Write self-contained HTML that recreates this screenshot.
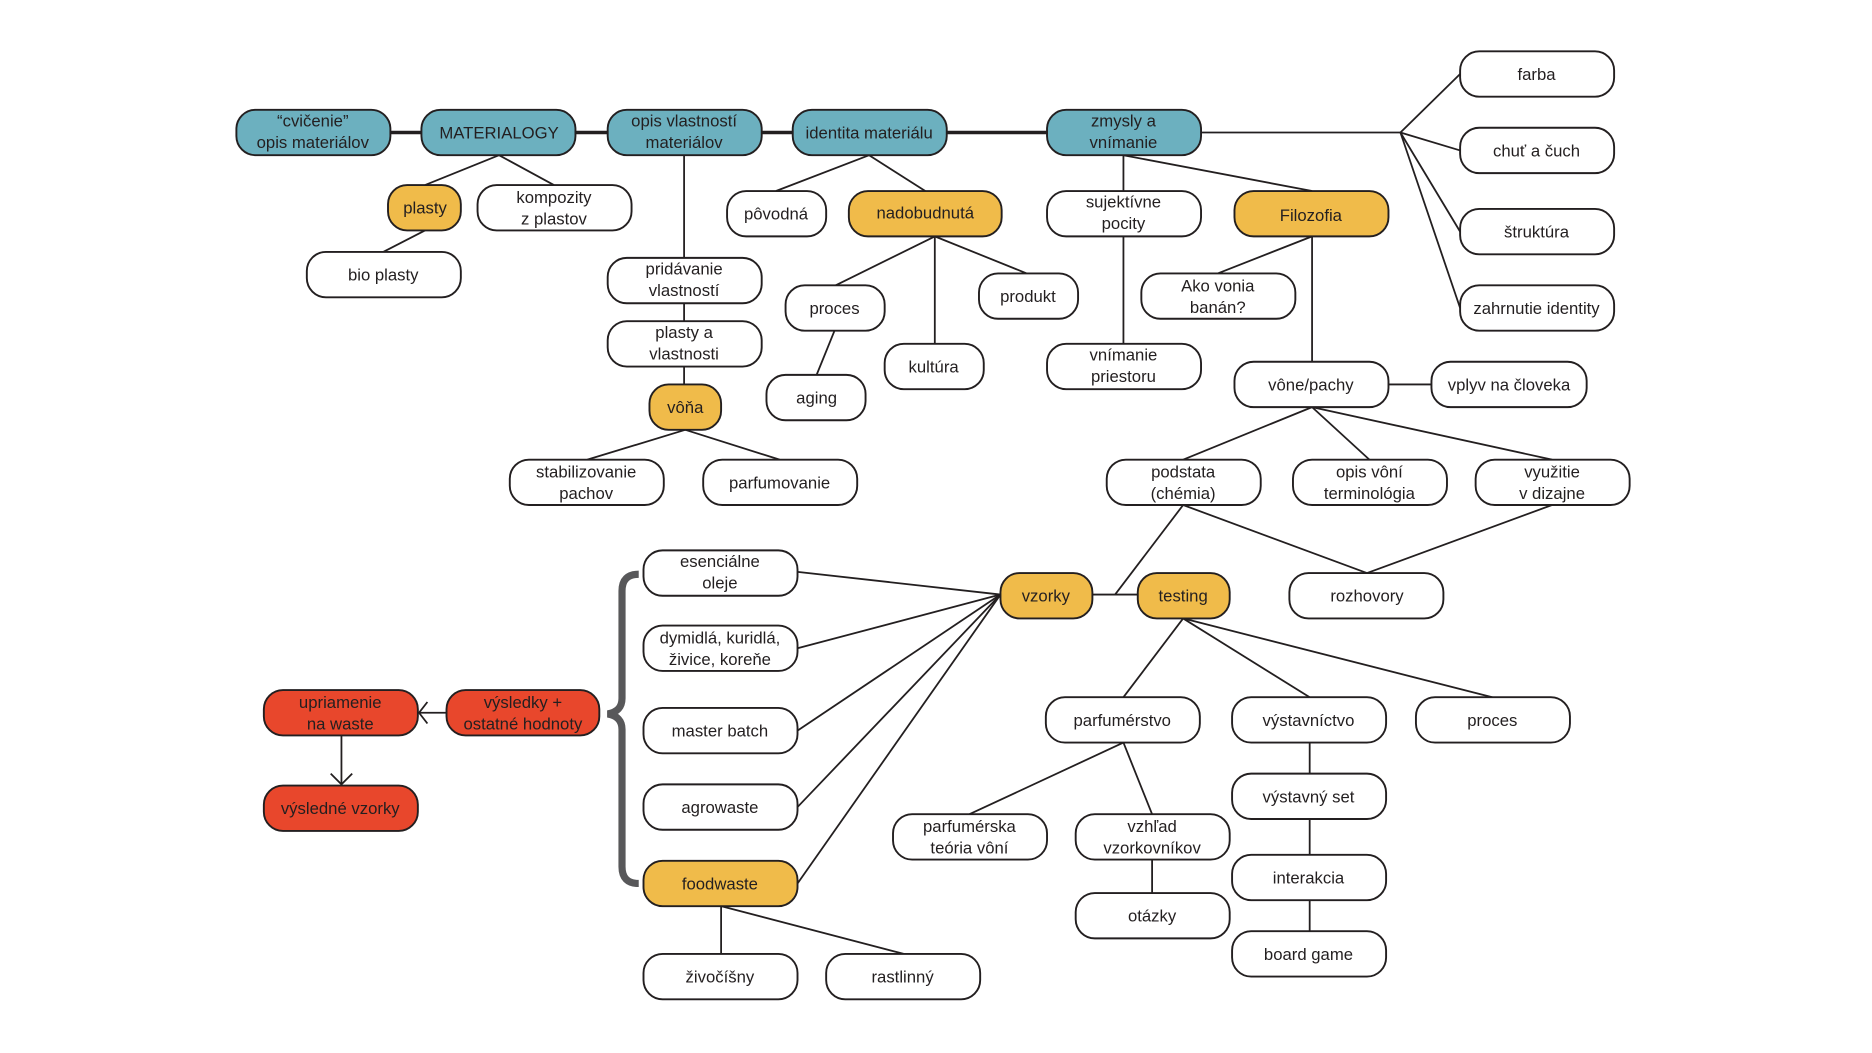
<!DOCTYPE html>
<html><head><meta charset="utf-8"><style>
html,body{margin:0;padding:0;background:#fff;width:1872px;height:1053px;overflow:hidden}
svg{display:block}
text{font-family:"Liberation Sans",sans-serif;font-size:14px;fill:#231f20;text-anchor:middle}
.b{stroke:#231f20;stroke-width:1.6}
.l{stroke:#231f20;stroke-width:1.5;fill:none}
</style></head><body>
<svg width="1872" height="1053" viewBox="0 0 1568 882" xmlns="http://www.w3.org/2000/svg">
<!-- connectors -->
<g class="l">
<line x1="327" y1="111" x2="877" y2="111" stroke-width="3"/>
<line x1="1006" y1="111" x2="1173" y2="111"/>
<line x1="1173" y1="111" x2="1223" y2="62"/>
<line x1="1173" y1="111" x2="1223" y2="126"/>
<line x1="1173" y1="111" x2="1223" y2="194"/>
<line x1="1173" y1="111" x2="1223" y2="258"/>
<line x1="418" y1="130" x2="356" y2="155"/>
<line x1="418" y1="130" x2="464" y2="155"/>
<line x1="356" y1="193" x2="321" y2="211"/>
<line x1="573" y1="130" x2="573" y2="322"/>
<line x1="574" y1="360" x2="492" y2="385"/>
<line x1="574" y1="360" x2="653" y2="385"/>
<line x1="728" y1="130" x2="650" y2="160"/>
<line x1="728" y1="130" x2="775" y2="160"/>
<line x1="783" y1="198" x2="700" y2="239"/>
<line x1="783" y1="198" x2="783" y2="288"/>
<line x1="783" y1="198" x2="860" y2="229"/>
<line x1="699" y1="277" x2="684" y2="314"/>
<line x1="941" y1="130" x2="941" y2="288"/>
<line x1="941" y1="130" x2="1099" y2="160"/>
<line x1="1099" y1="198" x2="1020" y2="229"/>
<line x1="1099" y1="198" x2="1099" y2="303"/>
<line x1="1163" y1="322" x2="1199" y2="322"/>
<line x1="1099" y1="341" x2="991" y2="385"/>
<line x1="1099" y1="341" x2="1147" y2="385"/>
<line x1="1099" y1="341" x2="1300" y2="385"/>
<line x1="991" y1="423" x2="1145" y2="480"/>
<line x1="1300" y1="423" x2="1145" y2="480"/>
<line x1="991" y1="423" x2="934" y2="498"/>
<line x1="915" y1="498" x2="953" y2="498"/>
<line x1="991" y1="518" x2="941" y2="584"/>
<line x1="991" y1="518" x2="1097" y2="584"/>
<line x1="991" y1="518" x2="1250" y2="584"/>
<line x1="941" y1="622" x2="812" y2="682"/>
<line x1="941" y1="622" x2="965" y2="682"/>
<line x1="965" y1="720" x2="965" y2="748"/>
<line x1="1097" y1="622" x2="1097" y2="780"/>
<line x1="838" y1="498" x2="668" y2="479"/>
<line x1="838" y1="498" x2="668" y2="543"/>
<line x1="838" y1="498" x2="668" y2="612"/>
<line x1="838" y1="498" x2="668" y2="676"/>
<line x1="838" y1="498" x2="668" y2="740"/>
<line x1="604" y1="759" x2="604" y2="799"/>
<line x1="604" y1="759" x2="757" y2="799"/>
<line x1="374" y1="597" x2="351" y2="597"/>
<polyline points="358,588 351,597 358,606"/>
<line x1="286" y1="616" x2="286" y2="657"/>
<polyline points="277,648 286,657 295,648"/>
</g>
<!-- brace -->
<path d="M535,481 Q521,481 521,495 L521,585 Q521,596 509,598 Q521,600 521,611 L521,726 Q521,740 535,740" fill="none" stroke="#58585a" stroke-width="6"/>
<!-- boxes -->
<g class="b">
<rect x="198" y="92" width="129" height="38" rx="16" fill="#6cb0bf"/>
<rect x="353" y="92" width="129" height="38" rx="16" fill="#6cb0bf"/>
<rect x="509" y="92" width="129" height="38" rx="16" fill="#6cb0bf"/>
<rect x="664" y="92" width="129" height="38" rx="16" fill="#6cb0bf"/>
<rect x="877" y="92" width="129" height="38" rx="16" fill="#6cb0bf"/>
<rect x="1223" y="43" width="129" height="38" rx="16" fill="#fff"/>
<rect x="1223" y="107" width="129" height="38" rx="16" fill="#fff"/>
<rect x="1223" y="175" width="129" height="38" rx="16" fill="#fff"/>
<rect x="1223" y="239" width="129" height="38" rx="16" fill="#fff"/>
<rect x="325" y="155" width="61" height="38" rx="16" fill="#f0bb4a"/>
<rect x="400" y="155" width="129" height="38" rx="16" fill="#fff"/>
<rect x="257" y="211" width="129" height="38" rx="16" fill="#fff"/>
<rect x="509" y="216" width="129" height="38" rx="16" fill="#fff"/>
<rect x="509" y="269" width="129" height="38" rx="16" fill="#fff"/>
<rect x="544" y="322" width="60" height="38" rx="16" fill="#f0bb4a"/>
<rect x="427" y="385" width="129" height="38" rx="16" fill="#fff"/>
<rect x="589" y="385" width="129" height="38" rx="16" fill="#fff"/>
<rect x="609" y="160" width="83" height="38" rx="16" fill="#fff"/>
<rect x="711" y="160" width="128" height="38" rx="16" fill="#f0bb4a"/>
<rect x="658" y="239" width="83" height="38" rx="16" fill="#fff"/>
<rect x="741" y="288" width="83" height="38" rx="16" fill="#fff"/>
<rect x="820" y="229" width="83" height="38" rx="16" fill="#fff"/>
<rect x="642" y="314" width="83" height="38" rx="16" fill="#fff"/>
<rect x="877" y="160" width="129" height="38" rx="16" fill="#fff"/>
<rect x="877" y="288" width="129" height="38" rx="16" fill="#fff"/>
<rect x="1034" y="160" width="129" height="38" rx="16" fill="#f0bb4a"/>
<rect x="956" y="229" width="129" height="38" rx="16" fill="#fff"/>
<rect x="1034" y="303" width="129" height="38" rx="16" fill="#fff"/>
<rect x="1199" y="303" width="130" height="38" rx="16" fill="#fff"/>
<rect x="927" y="385" width="129" height="38" rx="16" fill="#fff"/>
<rect x="1083" y="385" width="129" height="38" rx="16" fill="#fff"/>
<rect x="1236" y="385" width="129" height="38" rx="16" fill="#fff"/>
<rect x="1080" y="480" width="129" height="38" rx="16" fill="#fff"/>
<rect x="838" y="480" width="77" height="38" rx="16" fill="#f0bb4a"/>
<rect x="953" y="480" width="77" height="38" rx="16" fill="#f0bb4a"/>
<rect x="876" y="584" width="129" height="38" rx="16" fill="#fff"/>
<rect x="1032" y="584" width="129" height="38" rx="16" fill="#fff"/>
<rect x="1186" y="584" width="129" height="38" rx="16" fill="#fff"/>
<rect x="748" y="682" width="129" height="38" rx="16" fill="#fff"/>
<rect x="901" y="682" width="129" height="38" rx="16" fill="#fff"/>
<rect x="901" y="748" width="129" height="38" rx="16" fill="#fff"/>
<rect x="1032" y="648" width="129" height="38" rx="16" fill="#fff"/>
<rect x="1032" y="716" width="129" height="38" rx="16" fill="#fff"/>
<rect x="1032" y="780" width="129" height="38" rx="16" fill="#fff"/>
<rect x="539" y="461" width="129" height="38" rx="16" fill="#fff"/>
<rect x="539" y="524" width="129" height="38" rx="16" fill="#fff"/>
<rect x="539" y="593" width="129" height="38" rx="16" fill="#fff"/>
<rect x="539" y="657" width="129" height="38" rx="16" fill="#fff"/>
<rect x="539" y="721" width="129" height="38" rx="16" fill="#f0bb4a"/>
<rect x="539" y="799" width="129" height="38" rx="16" fill="#fff"/>
<rect x="692" y="799" width="129" height="38" rx="16" fill="#fff"/>
<rect x="374" y="578" width="128" height="38" rx="16" fill="#e8472c"/>
<rect x="221" y="578" width="129" height="38" rx="16" fill="#e8472c"/>
<rect x="221" y="658" width="129" height="38" rx="16" fill="#e8472c"/>
</g>
<!-- labels -->
<g>
<text x="262" y="106">“cvičenie”</text><text x="262" y="124">opis materiálov</text>
<text x="418" y="116">MATERIALOGY</text>
<text x="573" y="106">opis vlastností</text><text x="573" y="124">materiálov</text>
<text x="728" y="116">identita materiálu</text>
<text x="941" y="106">zmysly a</text><text x="941" y="124">vnímanie</text>
<text x="1287" y="67">farba</text>
<text x="1287" y="131">chuť a čuch</text>
<text x="1287" y="199">štruktúra</text>
<text x="1287" y="263">zahrnutie identity</text>
<text x="356" y="179">plasty</text>
<text x="464" y="170">kompozity</text><text x="464" y="188">z plastov</text>
<text x="321" y="235">bio plasty</text>
<text x="573" y="230">pridávanie</text><text x="573" y="248">vlastností</text>
<text x="573" y="283">plasty a</text><text x="573" y="301">vlastnosti</text>
<text x="574" y="346">vôňa</text>
<text x="491" y="400">stabilizovanie</text><text x="491" y="418">pachov</text>
<text x="653" y="409">parfumovanie</text>
<text x="650" y="184">pôvodná</text>
<text x="775" y="183">nadobudnutá</text>
<text x="699" y="263">proces</text>
<text x="782" y="312">kultúra</text>
<text x="861" y="253">produkt</text>
<text x="684" y="338">aging</text>
<text x="941" y="174">sujektívne</text><text x="941" y="192">pocity</text>
<text x="941" y="302">vnímanie</text><text x="941" y="320">priestoru</text>
<text x="1098" y="185">Filozofia</text>
<text x="1020" y="244">Ako vonia</text><text x="1020" y="262">banán?</text>
<text x="1098" y="327">vône/pachy</text>
<text x="1264" y="327">vplyv na človeka</text>
<text x="991" y="400">podstata</text><text x="991" y="418">(chémia)</text>
<text x="1147" y="400">opis vôní</text><text x="1147" y="418">terminológia</text>
<text x="1300" y="400">využitie</text><text x="1300" y="418">v dizajne</text>
<text x="1145" y="504">rozhovory</text>
<text x="876" y="504">vzorky</text>
<text x="991" y="504">testing</text>
<text x="940" y="608">parfumérstvo</text>
<text x="1096" y="608">výstavníctvo</text>
<text x="1250" y="608">proces</text>
<text x="812" y="697">parfumérska</text><text x="812" y="715">teória vôní</text>
<text x="965" y="697">vzhľad</text><text x="965" y="715">vzorkovníkov</text>
<text x="965" y="772">otázky</text>
<text x="1096" y="672">výstavný set</text>
<text x="1096" y="740">interakcia</text>
<text x="1096" y="804">board game</text>
<text x="603" y="475">esenciálne</text><text x="603" y="493">oleje</text>
<text x="603" y="539">dymidlá, kuridlá,</text><text x="603" y="557">živice, koreňe</text>
<text x="603" y="617">master batch</text>
<text x="603" y="681">agrowaste</text>
<text x="603" y="745">foodwaste</text>
<text x="603" y="823">živočíšny</text>
<text x="756" y="823">rastlinný</text>
<text x="438" y="593">výsledky +</text><text x="438" y="611">ostatné hodnoty</text>
<text x="285" y="593">upriamenie</text><text x="285" y="611">na waste</text>
<text x="285" y="682">výsledné vzorky</text>
</g>
</svg>
</body></html>
